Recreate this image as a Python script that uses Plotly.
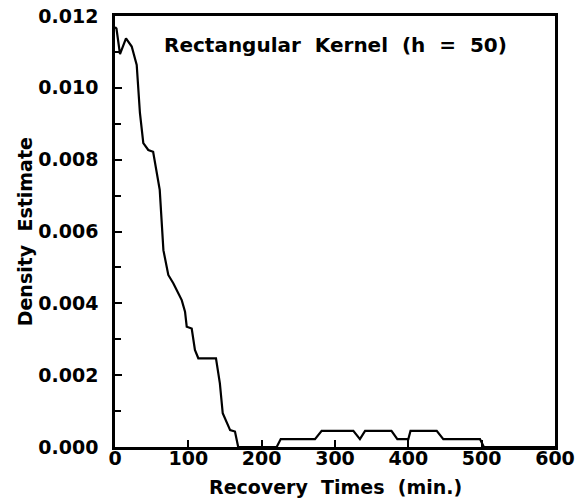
import plotly.graph_objects as go

# Recovery time (min.) and rectangular-kernel density estimate (h = 50)
recovery_times = [0, 2, 6.8, 15, 22.8, 29.6, 34, 38.6, 45.4, 52, 61, 66, 72.7, 79.5,
                  91, 95.5, 97.8, 104.6, 109, 113.6, 137.7, 143, 146.9, 157, 163.6, 168,
                  220.5, 226, 272.7, 281.8, 325, 334, 341, 377, 385, 400, 403,
                  438.7, 447.7, 497.7, 503, 600]
density = [0.01169, 0.01165, 0.01094, 0.01138, 0.01115, 0.01064, 0.0093, 0.00846,
           0.00827, 0.00822, 0.00716, 0.00548, 0.00479, 0.00456, 0.00409, 0.00377,
           0.00335, 0.0033, 0.0027, 0.00247, 0.00247, 0.00177, 0.00094, 0.00047,
           0.00043, 0.0,
           0.0, 0.00022, 0.00022, 0.00045, 0.00045, 0.00022, 0.00045, 0.00045,
           0.00022, 0.00022, 0.00045, 0.00045, 0.00022, 0.00022, 0.0, 0.0]

x_ticks = [0, 100, 200, 300, 400, 500, 600]
y_ticks = [0.000, 0.002, 0.004, 0.006, 0.008, 0.010, 0.012]
y_tick_labels = ["0.000", "0.002", "0.004", "0.006", "0.008", "0.010", "0.012"]

FONT = "DejaVu Sans"

fig = go.Figure()
fig.add_trace(go.Scatter(x=recovery_times, y=density, mode="lines",
                         line=dict(color="black", width=2.2), showlegend=False))

fig.add_annotation(text="<b>Rectangular  Kernel  (h  =  50)</b>", x=0.5, y=0.933,
                   xref="paper", yref="paper", showarrow=False, yanchor="middle",
                   font=dict(family=FONT, size=20, color="black"))

# axis titles as annotations for precise placement
fig.add_annotation(text="<b>Recovery  Times  (min.)</b>", x=0.5, y=-0.092,
                   xref="paper", yref="paper", showarrow=False, yanchor="middle",
                   font=dict(family=FONT, size=19, color="black"))
fig.add_annotation(text="<b>Density  Estimate</b>", x=-0.205, y=0.5, textangle=-90,
                   xref="paper", yref="paper", showarrow=False, xanchor="center",
                   yanchor="middle", font=dict(family=FONT, size=19, color="black"))

axis_common = dict(showline=True, linecolor="black", linewidth=2.5, mirror=True,
                   showgrid=False, zeroline=False, ticks="inside", tickcolor="black",
                   ticklen=7, tickwidth=2, automargin=False,
                   tickfont=dict(family=FONT, size=19, color="black"))

fig.update_xaxes(range=[0, 600], tickvals=x_ticks,
                 ticktext=["<b>%d</b>" % v for v in x_ticks],
                 ticklabelstandoff=-8,
                 **axis_common)
fig.update_yaxes(range=[0, 0.012], tickvals=y_ticks,
                 ticktext=["<b>%s</b>" % t for t in y_tick_labels],
                 minor=dict(dtick=0.001, ticks="inside", ticklen=6, tickwidth=2, tickcolor="black"),
                 ticklabelstandoff=10,
                 **axis_common)

fig.update_layout(width=583, height=499, plot_bgcolor="white", paper_bgcolor="white",
                  margin=dict(l=115, r=28, t=16, b=52))

fig.write_html("out.html", config={"displayModeBar": False},
               post_script="document.body.style.margin='0';")
